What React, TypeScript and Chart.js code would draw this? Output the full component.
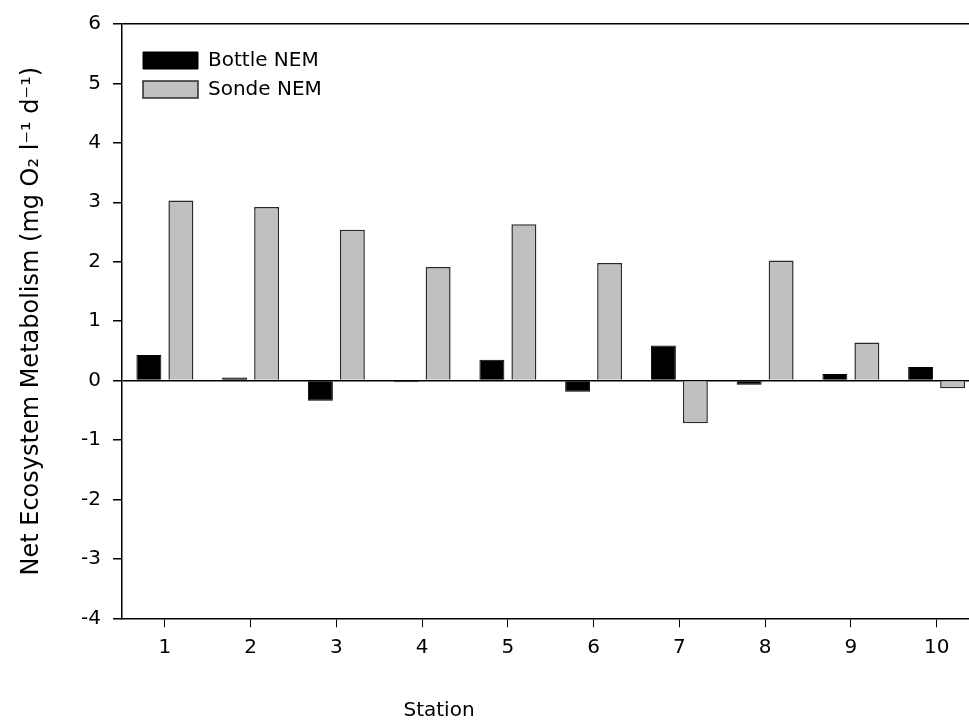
import React, { useEffect, useRef } from "react";
import { Chart, registerables } from "chart.js";

Chart.register(...registerables);

const stations = ["1", "2", "3", "4", "5", "6", "7", "8", "9", "10"];
const bottleNEM = [0.43, 0.05, -0.34, -0.03, 0.35, -0.19, 0.59, -0.07, 0.11, 0.23];
const sondeNEM = [3.03, 2.92, 2.54, 1.91, 2.63, 1.98, -0.72, 2.02, 0.64, -0.13];
const yMin = -4;
const yMax = 6;
const xTitle = "Station";
const yTitle = "Net Ecosystem Metabolism (mg O\u2082 l\u207B\u00B9 d\u207B\u00B9)";

const FONT = "'DejaVu Sans', 'Liberation Sans', Arial, sans-serif";

export default function App() {
  const ref = useRef<HTMLCanvasElement | null>(null);

  useEffect(() => {
    if (!ref.current) return;
    const extras = {
      id: "extras",
      afterLayout(chart: any) {
        const lg = chart.legend;
        if (lg) {
          lg.left = 134;
          lg.right = 134 + 300;
          lg.top = 41.5;
          lg.bottom = 41.5 + 200;
        }
      },
      afterDraw(chart: any) {
        const ctx = chart.ctx;
        ctx.save();
        ctx.font = `20px ${FONT}`;
        ctx.fillStyle = "#000";
        ctx.textAlign = "center";
        ctx.textBaseline = "middle";
        ctx.fillText(xTitle, 439, 711);
        ctx.restore();
      },
    };
    const chart = new Chart(ref.current, {
      type: "bar",
      data: {
        labels: stations,
        datasets: [
          {
            label: "Bottle NEM",
            data: bottleNEM,
            backgroundColor: "#000000",
            borderColor: "#000000",
            borderWidth: 1,
          },
          {
            label: "Sonde NEM",
            data: sondeNEM,
            backgroundColor: "#c0c0c0",
            borderColor: "#2a2a2a",
            borderWidth: 1.5,
          },
        ],
      },
      options: {
        animation: false,
        responsive: false,
        devicePixelRatio: 1,
        events: [],
        datasets: {
          bar: { categoryPercentage: 0.746, barPercentage: 0.78 },
        },
        layout: { padding: { left: 17, top: 18, right: 20.5, bottom: 0 } },
        plugins: {
          tooltip: { enabled: false },
          legend: {
            position: "chartArea" as any,
            align: "start",
            labels: {
              boxWidth: 55,
              boxHeight: 17,
              padding: 9,
              color: "#000",
              font: { family: FONT, size: 20 },
            },
          },
        },
        scales: {
          x: {
            type: "category",
            offset: true,
            grid: {
              offset: false,
              drawOnChartArea: false,
              drawTicks: true,
              tickLength: 9,
              color: "#000",
              tickColor: "#000",
            },
            border: { display: true, color: "#000", width: 1.5 },
            ticks: {
              color: "#000",
              padding: 8,
              maxRotation: 0,
              font: { family: FONT, size: 20 },
            },
            afterFit(scale: any) {
              scale.height = 726 - 618.3;
            },
          },
          y: {
            min: yMin,
            max: yMax,
            ticks: {
              stepSize: 1,
              color: "#000",
              padding: 12,
              font: { family: FONT, size: 20 },
            },
            grid: {
              drawOnChartArea: true,
              drawTicks: true,
              tickLength: 9,
              color: (c: any) =>
                c.tick && (c.tick.value === 0 || c.tick.value === yMax)
                  ? "#000"
                  : "rgba(0,0,0,0)",
              tickColor: "#000",
              lineWidth: 1.5,
            },
            border: { display: true, color: "#000", width: 1.5 },
            title: {
              display: true,
              text: yTitle,
              color: "#000",
              padding: { top: 0, bottom: 0 },
              font: { family: FONT, size: 24 },
            },
            afterFit(scale: any) {
              scale.width = 105;
            },
          },
        },
      },
      plugins: [extras],
    });
    return () => chart.destroy();
  }, []);

  return (
    <div
      style={{
        position: "absolute",
        left: 0,
        top: 0,
        width: 969,
        height: 726,
        overflow: "hidden",
        background: "#fff",
      }}
    >
      <canvas ref={ref} width={1000} height={726} style={{ display: "block" }} />
    </div>
  );
}
